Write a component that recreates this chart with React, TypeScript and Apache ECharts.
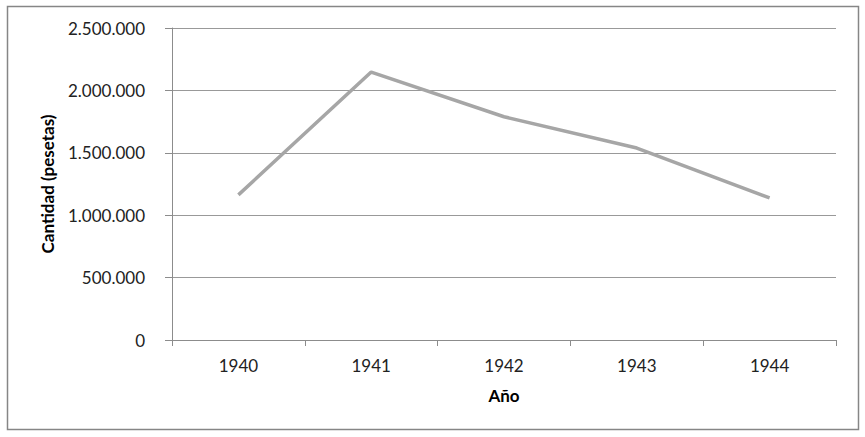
import React, { useEffect, useRef } from "react";
import * as echarts from "echarts";

const years = ["1940", "1941", "1942", "1943", "1944"];
const amounts = [1163000, 2147000, 1789000, 1538000, 1138000];
const yTicks = [0, 500000, 1000000, 1500000, 2000000, 2500000];

const fmt = (v: number) => String(Math.round(v)).replace(/\B(?=(\d{3})+(?!\d))/g, ".");

export default function App() {
  const ref = useRef<HTMLDivElement>(null);
  useEffect(() => {
    const chart = echarts.init(ref.current!, null, { renderer: "svg" });
    const font = "Lato, 'Open Sans', sans-serif";
    chart.setOption({
      animation: false,
      backgroundColor: "#fff",
      textStyle: { fontFamily: font },
      graphic: [
        {
          type: "rect",
          shape: { x: 7.5, y: 6.5, width: 851, height: 423 },
          style: { fill: "none", stroke: "#868686", lineWidth: 1.5 },
          silent: true,
        },
      ],
      grid: { left: 172, right: 29, top: 28, bottom: 97, containLabel: false },
      xAxis: {
        type: "category",
        data: years,
        boundaryGap: true,
        name: "Año",
        nameLocation: "middle",
        nameGap: 47,
        nameTextStyle: { fontFamily: font, fontSize: 17, fontWeight: "bold", color: "#000" },
        axisLine: { lineStyle: { color: "#8c8c8c", width: 1 } },
        axisTick: { show: true, length: 6, lineStyle: { color: "#8c8c8c" } },
        axisLabel: { fontFamily: font, fontSize: 17, color: "#222", margin: 17 },
        splitLine: { show: false },
      },
      yAxis: {
        type: "value",
        min: yTicks[0],
        max: yTicks[yTicks.length - 1],
        interval: yTicks[1] - yTicks[0],
        name: "Cantidad (pesetas)",
        nameLocation: "middle",
        nameGap: 116,
        nameTextStyle: { fontFamily: font, fontSize: 17, fontWeight: "bold", color: "#000" },
        axisLine: { show: true, lineStyle: { color: "#8c8c8c", width: 1 } },
        axisTick: { show: true, length: 7, lineStyle: { color: "#8c8c8c" } },
        axisLabel: { fontFamily: font, fontSize: 17, color: "#222", margin: 27, formatter: (v: number) => fmt(v) },
        splitLine: { show: true, lineStyle: { color: "#999", width: 1 } },
      },
      series: [
        {
          type: "line",
          data: amounts,
          symbol: "none",
          lineStyle: { color: "#A6A6A6", width: 3.5 },
          itemStyle: { color: "#A6A6A6" },
        },
      ],
    });
    return () => chart.dispose();
  }, []);
  return <div ref={ref} style={{ position: "fixed", left: 0, top: 0, width: 865, height: 437 }} />;
}
